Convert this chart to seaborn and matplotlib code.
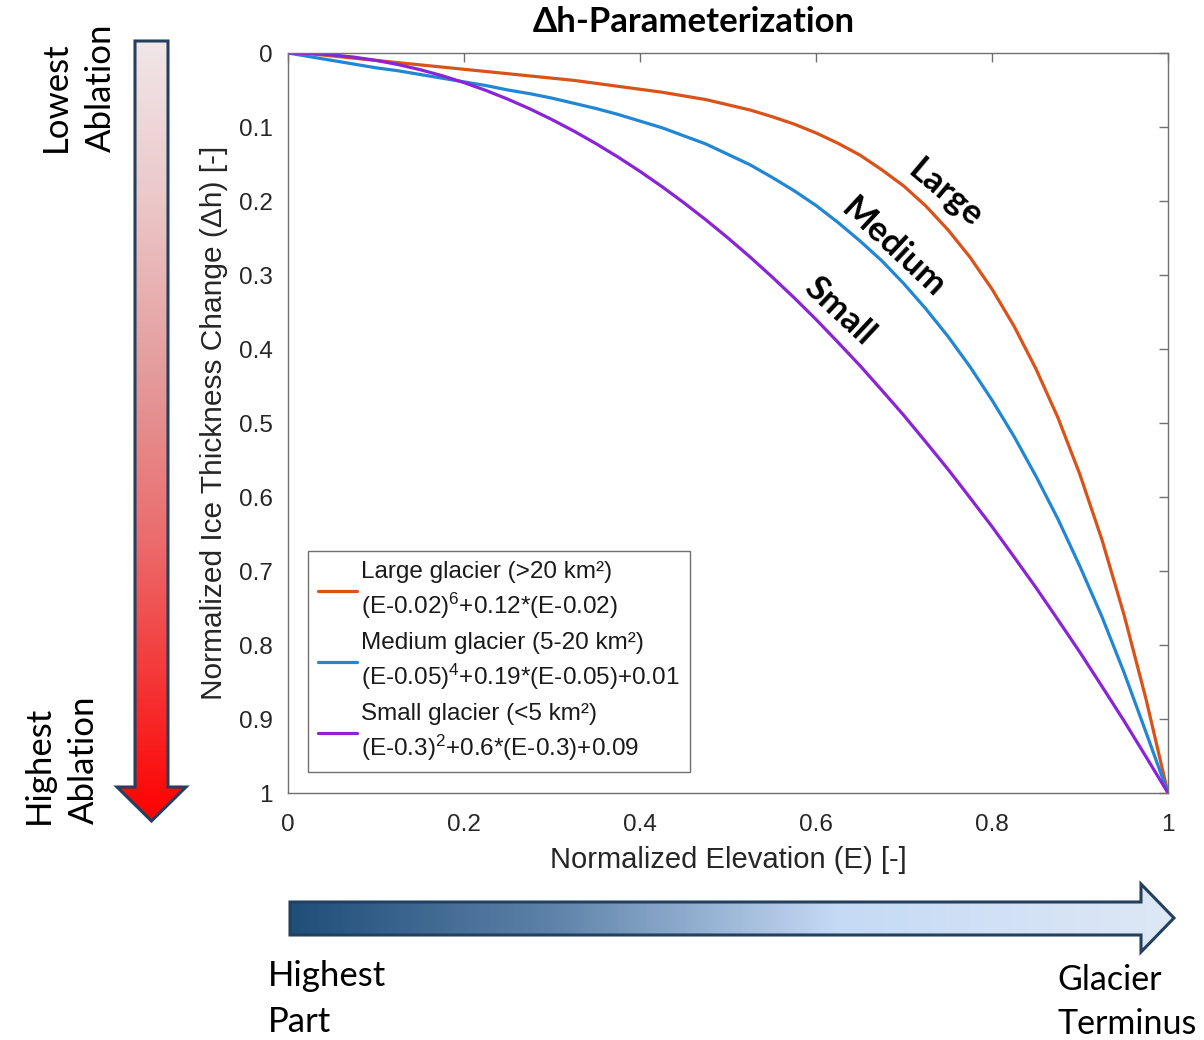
import numpy as np
import pandas as pd
import matplotlib
matplotlib.use("Agg")
import matplotlib.pyplot as plt
import seaborn as sns
from matplotlib.patches import Polygon
from matplotlib.colors import LinearSegmentedColormap
from matplotlib.lines import Line2D

# ---------------- data ----------------
elevation = [0.0, 0.025, 0.05, 0.075, 0.1, 0.125, 0.15, 0.175, 0.2, 0.225, 0.25,
             0.275, 0.3, 0.325, 0.35, 0.375, 0.4, 0.425, 0.45, 0.475, 0.5, 0.525,
             0.55, 0.575, 0.6, 0.625, 0.65, 0.675, 0.7, 0.725, 0.75, 0.775, 0.8,
             0.825, 0.85, 0.875, 0.9, 0.925, 0.95, 0.975, 1.0]
large_dh = [0.0, 0.001, 0.004, 0.007, 0.010, 0.013, 0.016, 0.019, 0.022, 0.025,
            0.028, 0.031, 0.034, 0.037, 0.041, 0.045, 0.049, 0.053, 0.058, 0.063,
            0.070, 0.077, 0.086, 0.096, 0.108, 0.122, 0.138, 0.158, 0.180, 0.207,
            0.239, 0.276, 0.319, 0.369, 0.427, 0.493, 0.570, 0.658, 0.759, 0.873, 1.0]
medium_dh = [0.0, 0.005, 0.010, 0.015, 0.020, 0.024, 0.029, 0.034, 0.039, 0.044,
             0.050, 0.055, 0.061, 0.068, 0.075, 0.083, 0.092, 0.101, 0.112, 0.123,
             0.137, 0.151, 0.168, 0.186, 0.206, 0.229, 0.254, 0.281, 0.312, 0.346,
             0.383, 0.424, 0.469, 0.518, 0.572, 0.630, 0.694, 0.762, 0.837, 0.918, 1.0]
small_dh = [0.0, 0.0006, 0.0025, 0.0056, 0.010, 0.0156, 0.0225, 0.0306, 0.040,
            0.0506, 0.0625, 0.0756, 0.090, 0.1056, 0.1225, 0.1406, 0.160, 0.1806,
            0.2025, 0.2256, 0.250, 0.2756, 0.3025, 0.3306, 0.360, 0.391, 0.4225,
            0.456, 0.490, 0.526, 0.5625, 0.601, 0.640, 0.681, 0.7225, 0.766, 0.810,
            0.856, 0.9025, 0.951, 1.0]

size_classes = ["Large", "Medium", "Small"]
legend_labels = [
    "Large glacier (>20 km²)\n(E-0.02)$^{6}$+0.12*(E-0.02)",
    "Medium glacier (5-20 km²)\n(E-0.05)$^{4}$+0.19*(E-0.05)+0.01",
    "Small glacier (<5 km²)\n(E-0.3)$^{2}$+0.6*(E-0.3)+0.09",
]
x_ticks = [0, 0.2, 0.4, 0.6, 0.8, 1]
x_tick_labels = ["0", "0.2", "0.4", "0.6", "0.8", "1"]
y_ticks = [0, 0.1, 0.2, 0.3, 0.4, 0.5, 0.6, 0.7, 0.8, 0.9, 1]
y_tick_labels = ["0", "0.1", "0.2", "0.3", "0.4", "0.5", "0.6", "0.7", "0.8", "0.9", "1"]

colors = {"Large": "#D95319", "Medium": "#2186D4", "Small": "#8A24D6"}

# ---------------- style ----------------
sns.set_theme(style="white")
plt.rcParams["font.family"] = ["Liberation Sans", "DejaVu Sans"]
plt.rcParams["mathtext.fontset"] = "custom"
plt.rcParams["mathtext.rm"] = "Liberation Sans"
plt.rcParams["mathtext.it"] = "Liberation Sans:italic"
plt.rcParams["mathtext.bf"] = "Liberation Sans:bold"

W, H = 1204, 1040
fig = plt.figure(figsize=(W / 100, H / 100), dpi=100)
fig.patch.set_facecolor("white")

# overlay for decorations (pixel coordinates)
ov = fig.add_axes([0, 0, 1, 1], zorder=0)
ov.set_xlim(0, W)
ov.set_ylim(H, 0)
ov.axis("off")

# main axes
ax = fig.add_axes([288 / W, 1 - 793 / H, 880 / W, 740 / H], zorder=1)

n = len(elevation)
df = pd.DataFrame({
    "E": elevation * 3,
    "dh": large_dh + medium_dh + small_dh,
    "size": ["Large"] * n + ["Medium"] * n + ["Small"] * n,
})
sns.lineplot(data=df, x="E", y="dh", hue="size", hue_order=size_classes,
             palette=colors, linewidth=2.3, legend=False, ax=ax, estimator=None)
for ln in ax.lines:
    ln.set_solid_joinstyle("round")
    ln.set_solid_capstyle("round")

ax.set_xlim(0, 1)
ax.set_ylim(1, 0)
ax.set_xticks(x_ticks)
ax.set_xticklabels(x_tick_labels)
ax.set_yticks(y_ticks)
ax.set_yticklabels(y_tick_labels)
spine_c = "#707070"
for s in ax.spines.values():
    s.set_visible(True)
    s.set_color(spine_c)
    s.set_linewidth(1.0)
ax.tick_params(direction="in", length=6.5, width=1.0, top=True, right=True,
               color=spine_c, labelcolor="#262626", labelsize=17.5)
ax.tick_params(axis="x", pad=15)
ax.tick_params(axis="y", pad=11)
ax.set_xlabel("Normalized Elevation (E) [-]", fontsize=21, color="#262626", labelpad=7)
ax.set_ylabel("Normalized Ice Thickness Change (Δh) [-]", fontsize=21.5, color="#262626", labelpad=8)

handles = [Line2D([0], [0], color=colors[k], lw=2.3) for k in size_classes]
leg = ax.legend(handles, legend_labels, loc="lower left", bbox_to_anchor=(0.0227, 0.028),
                fontsize=17.5, frameon=True, fancybox=False, edgecolor=spine_c,
                framealpha=1, handlelength=1.6, handletextpad=0.2, borderpad=0.4,
                labelspacing=0.44, borderaxespad=0)
leg.get_frame().set_linewidth(1.0)
for t in leg.get_texts():
    t.set_linespacing(1.34)
    t.set_color("#1a1a1a")

# curve labels
lab_font = ["Lato", "DejaVu Sans"]
ax.text(0.747, 0.190, "Large", rotation=-40, ha="center", va="center", fontsize=25,
        fontweight="bold", family=lab_font, rotation_mode="anchor", color="black")
ax.text(0.6875, 0.263, "Medium", rotation=-43, ha="center", va="center", fontsize=25,
        fontweight="bold", family=lab_font, rotation_mode="anchor", color="black")
ax.text(0.627, 0.348, "Small", rotation=-43, ha="center", va="center", fontsize=25,
        fontweight="bold", family=lab_font, rotation_mode="anchor", color="black")

# title
ov.text(694, 22, "Δh-Parameterization", ha="center", va="center", fontsize=25,
        fontweight="bold", family=lab_font, color="black")

# ---------------- gradient arrows ----------------
outline = "#24405F"

red_cmap = LinearSegmentedColormap.from_list("redgrad", [
    (0.0, (241 / 255, 230 / 255, 232 / 255)),
    (0.2, (236 / 255, 200 / 255, 201 / 255)),
    (0.45, (228 / 255, 150 / 255, 150 / 255)),
    (0.65, (236 / 255, 105 / 255, 106 / 255)),
    (1.0, (255 / 255, 0, 0)),
])
red_pts = [(135, 41), (168, 41), (168, 787), (186, 787), (151.5, 821), (117, 787), (135, 787)]
red_poly = Polygon(red_pts, closed=True, facecolor="none", edgecolor=outline, lw=2.2, zorder=3)
grad_v = np.linspace(0, 1, 256).reshape(-1, 1)
im = ov.imshow(grad_v, cmap=red_cmap, extent=[117, 186, 821, 41], aspect="auto", zorder=2)
clip_r = Polygon(red_pts, closed=True, transform=ov.transData)
im.set_clip_path(clip_r)
ov.add_patch(red_poly)

blue_cmap = LinearSegmentedColormap.from_list("bluegrad", [
    (0.0, (31 / 255, 78 / 255, 121 / 255)),
    (0.3, (95 / 255, 131 / 255, 170 / 255)),
    (0.62, (197 / 255, 218 / 255, 245 / 255)),
    (1.0, (222 / 255, 232 / 255, 245 / 255)),
])
blue_pts = [(290, 902), (1141, 902), (1141, 884), (1174, 918), (1141, 952), (1141, 935), (290, 935)]
blue_poly = Polygon(blue_pts, closed=True, facecolor="none", edgecolor=outline, lw=2.2, zorder=3)
grad_h = np.linspace(0, 1, 256).reshape(1, -1)
im2 = ov.imshow(grad_h, cmap=blue_cmap, extent=[290, 1174, 952, 884], aspect="auto", zorder=2)
clip_b = Polygon(blue_pts, closed=True, transform=ov.transData)
im2.set_clip_path(clip_b)
ov.add_patch(blue_poly)
ov.set_xlim(0, W)
ov.set_ylim(H, 0)

# ---------------- side texts ----------------
side_font = ["Lato", "DejaVu Sans"]
ov.text(78, 88, "Lowest\nAblation", rotation=90, ha="center", va="center",
        multialignment="left", fontsize=25, family=side_font, linespacing=1.5, color="black")
ov.text(61, 760, "Highest\nAblation", rotation=90, ha="center", va="center",
        multialignment="left", fontsize=25, family=side_font, linespacing=1.5, color="black")
ov.text(268, 999, "Highest\nPart", ha="left", va="center", fontsize=25,
        family=side_font, linespacing=1.5, color="black")
ov.text(1057, 1002, "Glacier\nTerminus", ha="left", va="center", fontsize=24.5,
        family=side_font, linespacing=1.5, color="black")

fig.savefig("out.png", dpi=100, facecolor="white")
